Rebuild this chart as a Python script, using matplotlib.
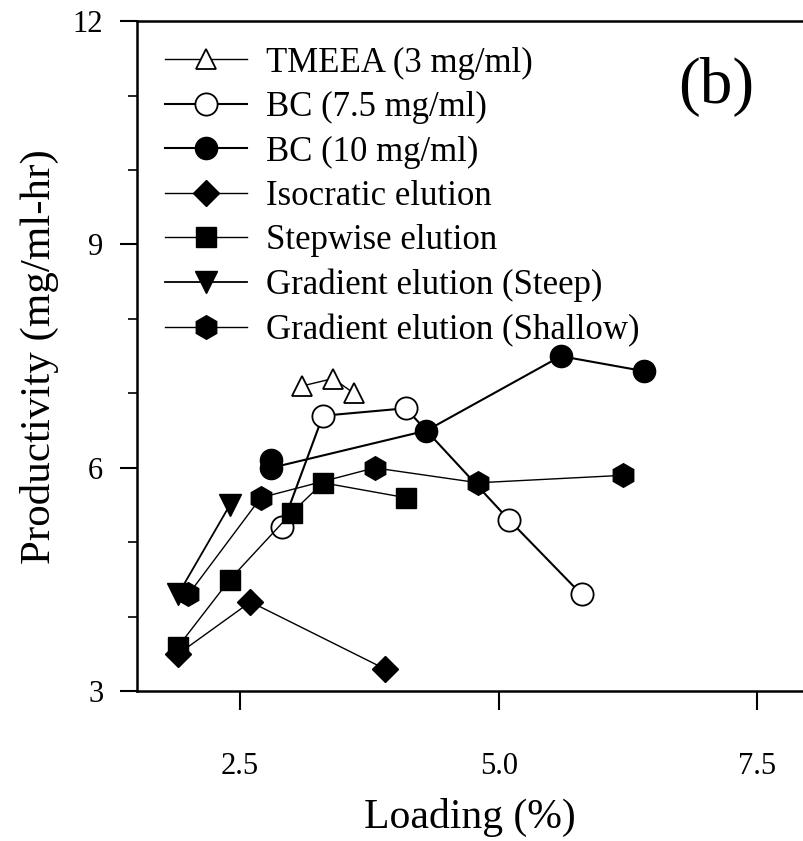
import numpy as np
import matplotlib
matplotlib.use('Agg')
import matplotlib.pyplot as plt
from matplotlib.ticker import MultipleLocator

plt.rcParams['font.family'] = ['Liberation Serif', 'DejaVu Serif']

# data
tmeea_x = [3.1, 3.4, 3.6]
tmeea_y = [7.1, 7.2, 7.0]
bc75_x = [2.9, 3.3, 4.1, 5.1, 5.8]
bc75_y = [5.2, 6.7, 6.8, 5.3, 4.3]
bc10_x = [2.8, 2.8, 4.3, 5.6, 6.4]
bc10_y = [6.1, 6.0, 6.5, 7.5, 7.3]
iso_x = [1.9, 2.6, 3.9]
iso_y = [3.5, 4.2, 3.3]
step_x = [1.9, 2.4, 3.0, 3.3, 4.1]
step_y = [3.6, 4.5, 5.4, 5.8, 5.6]
steep_x = [1.9, 2.4]
steep_y = [4.3, 5.5]
shallow_x = [2.0, 2.7, 3.8, 4.8, 6.2]
shallow_y = [4.3, 5.6, 6.0, 5.8, 5.9]

labels = ['TMEEA (3 mg/ml)', 'BC (7.5 mg/ml)', 'BC (10 mg/ml)',
          'Isocratic elution', 'Stepwise elution',
          'Gradient elution (Steep)', 'Gradient elution (Shallow)']

fig = plt.figure(figsize=(8.04, 8.41), dpi=100)
ax = fig.add_axes([0.170, 0.178, 0.830, 0.797])

ax.plot(tmeea_x, tmeea_y, '-^', color='k', mfc='white', mec='k', mew=1.3, ms=15, lw=1.0, label=labels[0])
ax.plot(bc75_x, bc75_y, '-o', color='k', mfc='white', mec='k', mew=1.3, ms=16, lw=1.5, label=labels[1])
ax.plot(bc10_x, bc10_y, '-o', color='k', mfc='k', ms=16, lw=1.5, label=labels[2])
ax.plot(iso_x, iso_y, '-D', color='k', mfc='k', ms=13, lw=1.0, label=labels[3])
ax.plot(step_x, step_y, '-s', color='k', mfc='k', ms=15, lw=1.0, label=labels[4])
ax.plot(steep_x, steep_y, '-v', color='k', mfc='k', ms=16, lw=1.3, label=labels[5])
ax.plot(shallow_x, shallow_y, '-h', color='k', mfc='k', ms=17, lw=1.0, label=labels[6])

ax.set_xlim(1.5, 7.95)
ax.set_ylim(3, 12)
ax.set_xticks([2.5, 5.0, 7.5])
ax.set_xticklabels(['2.5', '5.0', '7.5'])
ax.yaxis.set_major_locator(MultipleLocator(3))
ax.yaxis.set_minor_locator(MultipleLocator(1))
ax.tick_params(axis='x', direction='out', length=14, width=1.5, pad=30, labelsize=22)
ax.tick_params(axis='y', which='major', direction='out', length=12, width=1.5, pad=12, labelsize=22)
ax.tick_params(axis='y', which='minor', direction='out', length=6.5, width=1.2)
ax.spines['right'].set_visible(False)
for s in ['left', 'bottom', 'top']:
    ax.spines[s].set_linewidth(1.8)

ax.set_xlabel('Loading (%)', fontsize=30, labelpad=12)
ax.set_ylabel('Productivity (mg/ml-hr)', fontsize=31, labelpad=10)

ax.text(0.868, 0.901, '(b)', transform=ax.transAxes, fontsize=47, ha='center', va='center')

leg = ax.legend(loc='upper left', bbox_to_anchor=(0.043, 0.962), frameon=False,
                fontsize=25, handlelength=2.35, handletextpad=0.55, labelspacing=0.33,
                borderpad=0, borderaxespad=0)

fig.savefig('out.png', dpi=100)
